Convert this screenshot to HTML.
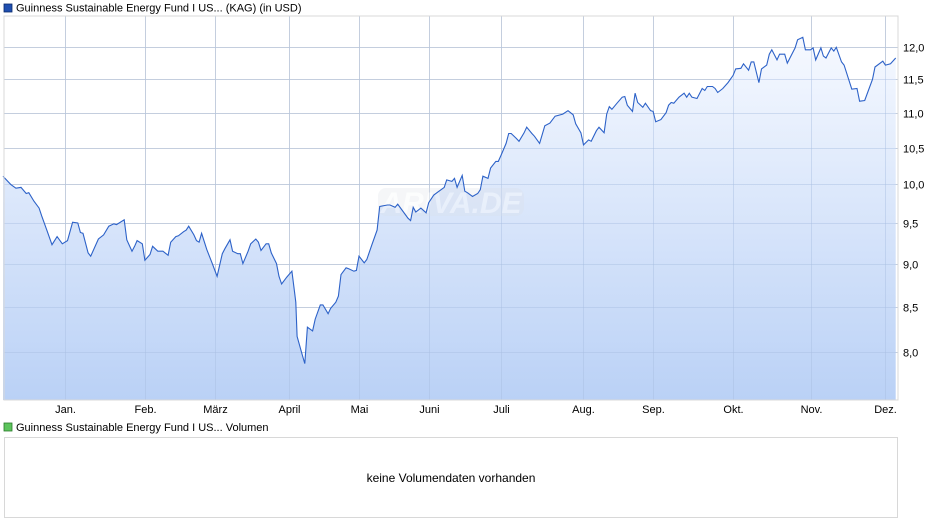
<!DOCTYPE html>
<html><head><meta charset="utf-8">
<style>
body{margin:0;background:#fff;width:940px;height:526px;overflow:hidden;font-family:"Liberation Sans",Arial,sans-serif;}
svg{display:block}
text{font-family:"Liberation Sans",Arial,sans-serif;}
</style></head>
<body>
<svg id="chart" width="940" height="526">
<defs>
<linearGradient id="fillg" x1="0" y1="0" x2="0" y2="1">
<stop offset="0" stop-color="#f6f9ff"/>
<stop offset="1" stop-color="#bad1f6"/>
</linearGradient>
</defs>
<rect x="4" y="4" width="8" height="8" fill="#1f4fb0" stroke="#0b2a6b" stroke-width="0.8"/>
<text x="16" y="11.5" font-size="11" fill="#000">Guinness Sustainable Energy Fund I US... (KAG) (in USD)</text>
<g id="grid"></g>
<path id="area" fill="url(#fillg)"></path>
<g id="gridOver"></g>
<g opacity="0.5">
<rect x="378" y="188" width="146" height="28" rx="8" fill="#d9dde6" opacity="0.55"/>
<text x="451" y="213" font-size="30" font-weight="bold" font-style="italic" fill="#ffffff" opacity="0.8" text-anchor="middle">ARIVA.DE</text>
</g>
<path id="line" fill="none" stroke="#2d62c8" stroke-width="1.1"></path>
<rect x="4" y="16" width="894" height="384" fill="none" stroke="#d8d8d8"/>
<g id="xlabels"></g>
<g id="ylabels"></g>
<rect x="4" y="423" width="8" height="8" fill="#5cc45c" stroke="#2a7a2a" stroke-width="0.8"/>
<text x="16" y="431" font-size="11" fill="#000">Guinness Sustainable Energy Fund I US... Volumen</text>
<rect x="4.5" y="437.5" width="893" height="80" fill="#fff" stroke="#d8d8d8"/>
<text x="451" y="482" font-size="12" fill="#000" text-anchor="middle">keine Volumendaten vorhanden</text>
</svg>
<script>
const days=[-24,-21,-19,-17,-15,-14,-12,-10,-9,-7,-5,-3,-1,1,3,5,6,7,9,10,13,15,17,19,20,23,24,26,27,28,30,31,33,34,36,38,40,41,43,44,46,47,48,50,51,52,53,55,57,59,61,62,64,65,67,68,69,71,72,74,75,76,78,79,80,82,83,84,86,88,89,89.5,90,92,93,94,96,97,99,100,102,103,105,106,107,109,110,112,113,114,116,117,119,121,122,125,126,128,129,133,134,135,136,138,140,141,143,145,147,148,150,151,152,154,155,156,158,160,161,162,164,165,167,168,169,171,172,173,175,176,178,179,181,182,184,186,188,190,193,195,197,198,200,201,203,204,206,207,209,210,211,212,214,216,217,218,220,221,222,224,225,227,228,229,231,233,234,235,236,238,240,241,242,243,245,247,248,249,251,252,253,255,257,259,260,262,263,265,266,267,269,270,272,273,274,276,277,279,280,283,284,286,287,289,290,291,293,294,295,297,298,299,301,302,305,307,308,310,313,314,317,318,320,322];
const prices=[10.11,10.00,9.95,9.96,9.88,9.89,9.78,9.69,9.59,9.41,9.23,9.33,9.24,9.28,9.51,9.50,9.38,9.37,9.13,9.09,9.30,9.35,9.46,9.49,9.48,9.54,9.29,9.15,9.21,9.28,9.24,9.04,9.11,9.21,9.15,9.15,9.10,9.26,9.33,9.34,9.39,9.41,9.46,9.35,9.28,9.26,9.37,9.17,9.01,8.85,9.12,9.18,9.29,9.15,9.12,9.12,9.00,9.15,9.24,9.30,9.26,9.16,9.24,9.24,9.13,9.00,8.85,8.76,8.84,8.91,8.67,8.55,8.17,7.97,7.88,8.27,8.23,8.36,8.52,8.52,8.42,8.48,8.55,8.62,8.87,8.95,8.94,8.91,8.92,9.09,9.01,9.05,9.23,9.41,9.71,9.73,9.73,9.70,9.74,9.56,9.53,9.70,9.64,9.69,9.63,9.76,9.86,9.91,9.96,10.06,10.04,10.08,9.96,10.12,9.91,9.89,9.84,9.88,9.93,10.11,10.08,10.22,10.31,10.31,10.39,10.56,10.70,10.70,10.63,10.59,10.71,10.79,10.70,10.66,10.56,10.81,10.85,10.95,10.98,11.03,10.97,10.84,10.71,10.54,10.61,10.59,10.74,10.79,10.71,10.98,11.09,11.05,11.14,11.23,11.24,11.11,11.02,11.29,11.15,11.08,11.14,11.03,11.02,10.87,10.90,11.00,11.11,11.15,11.14,11.23,11.29,11.23,11.29,11.23,11.21,11.36,11.33,11.39,11.39,11.36,11.30,11.36,11.45,11.56,11.66,11.67,11.74,11.64,11.77,11.77,11.45,11.66,11.72,11.89,11.96,11.80,11.89,11.89,11.75,11.99,12.12,12.16,11.96,11.96,11.99,11.80,11.99,11.86,11.83,11.99,11.94,12.00,11.77,11.72,11.35,11.36,11.17,11.18,11.50,11.69,11.78,11.72,11.74,11.83];
const monthLabels=["Jan.","Feb.","März","April","Mai","Juni","Juli","Aug.","Sep.","Okt.","Nov.","Dez."];
const monthTicks=[0,31,58,87,114,141,169,201,228,259,289,318];
const yTicks=[8.0,8.5,9.0,9.5,10.0,10.5,11.0,11.5,12.0];
const yTickLabels=["8,0","8,5","9,0","9,5","10,0","10,5","11,0","11,5","12,0"];

const L=4,R=898,T=16,B=400;
const dMin=-23.6,dMax=322.9;
function xScale(d){return L+(d-dMin)/(dMax-dMin)*(R-L);}
const yTop=12,yTopPx=47.3,pxPerLn=752;
function yScale(v){return yTopPx+Math.log(yTop/v)*pxPerLn;}

const NS="http://www.w3.org/2000/svg";
const grid=document.getElementById('grid');
const xl=document.getElementById('xlabels');
const yl=document.getElementById('ylabels');
function mk(t,a,p){const e=document.createElementNS(NS,t);for(const k in a)e.setAttribute(k,a[k]);p.appendChild(e);return e;}

yTicks.forEach((v,i)=>{
  const y=Math.round(yScale(v))+0.5;
  const g=mk('line',{x1:L,x2:R,y1:y,y2:y,stroke:'#dcdcdc','stroke-width':1},grid);
  
  
  const t=mk('text',{x:903,y:y+4,'font-size':11,fill:'#000'},yl);
  t.textContent=yTickLabels[i];
  
  
});
monthTicks.forEach((d,i)=>{
  const x=Math.round(xScale(d))+0.5;
  const g=mk('line',{x1:x,x2:x,y1:T,y2:B,stroke:'#dcdcdc','stroke-width':1},grid);
  
  
  const t=mk('text',{x:x,y:413,'font-size':11,fill:'#000','text-anchor':'middle'},xl);
  t.textContent=monthLabels[i];
  
  
});
const go=document.getElementById('gridOver');
yTicks.forEach(v=>{
  const y=Math.round(yScale(v))+0.5;
  const g=mk('line',{x1:L,x2:R,y1:y,y2:y,stroke:'#a9bfe2','stroke-width':1,opacity:0.45},go);
  
  
});
monthTicks.forEach(d=>{
  const x=Math.round(xScale(d))+0.5;
  const g=mk('line',{x1:x,x2:x,y1:T,y2:B,stroke:'#a9bfe2','stroke-width':1,opacity:0.45},go);
  
  
});

let dl='';
days.forEach((d,i)=>{dl+=(i?'L':'M')+xScale(d).toFixed(1)+','+yScale(prices[i]).toFixed(1);});
document.getElementById('line').setAttribute('d',dl);
const xs=xScale(days[0]).toFixed(1),xe=xScale(days[days.length-1]).toFixed(1);
document.getElementById('area').setAttribute('d',dl+'L'+xe+','+B+'L'+xs+','+B+'Z');
</script>
</body></html>
